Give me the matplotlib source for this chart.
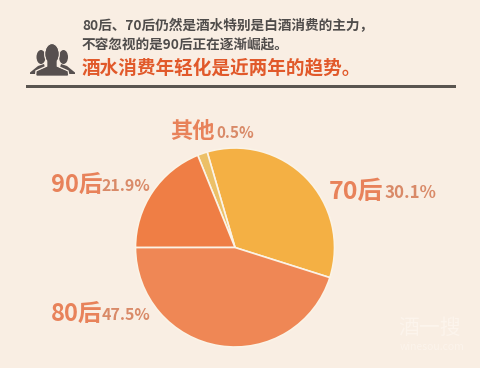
import matplotlib
matplotlib.use("Agg")
import matplotlib.pyplot as plt
from matplotlib.patches import Ellipse, Polygon, Rectangle

plt.rcParams['font.family'] = ['Noto Sans CJK SC', 'DejaVu Sans']

# Order: counter-clockwise from the start angle
categories = ['70后', '其他', '90后', '80后']
printed_labels = ['30.1%', '0.5%', '21.9%', '47.5%']
# Slice sizes as drawn in the picture (they differ from the printed labels)
drawn_shares = [34.4, 1.6, 18.9, 45.1]
slice_colors = ['#f4b044', '#ecc067', '#ef7e45', '#ef8755']

headline_lines = ['80后、70后仍然是酒水特别是白酒消费的主力，', '不容忽视的是90后正在逐渐崛起。']
headline_accent = '酒水消费年轻化是近两年的趋势。'

W, H = 480, 368
BG = '#f9eee3'
fig = plt.figure(figsize=(W / 100, H / 100), dpi=100, facecolor=BG)

# Overlay in pixel coordinates
ov = fig.add_axes([0, 0, 1, 1])
ov.set_xlim(0, W)
ov.set_ylim(H, 0)
ov.axis('off')

# Pie
cx, cy, r = 235, 247.5, 99.5
ax = fig.add_axes([(cx - r) / W, 1 - (cy + r) / H, 2 * r / W, 2 * r / H])
ax.pie(drawn_shares, colors=slice_colors, startangle=-17.6, counterclock=True, radius=1.0,
       wedgeprops=dict(edgecolor='#fbf3e6', linewidth=1.2))
ax.set_xlim(-1, 1)
ax.set_ylim(-1, 1)
ax.set_aspect('equal')
ax.patch.set_alpha(0)

# Header text
dark = '#4f4c4b'
ov.text(82, 26, headline_lines[0], fontsize=9.85, fontweight='bold', color=dark, va='center', ha='left')
ov.text(82, 44, headline_lines[1], fontsize=9.85, fontweight='bold', color=dark, va='center', ha='left')
ov.text(82, 67.5, headline_accent, fontsize=13.4, fontweight='bold', color='#e1592a', va='center', ha='left')

# Rule
ov.add_patch(Rectangle((26, 84.5), 430, 3.5, color='#5a5550', lw=0))

# People icon
icon = '#57504f'
for hx, body in [
    (41, [(30, 72.5), (38, 66), (44, 64), (47, 74), (30, 74)]),
    (63.5, [(75, 72.5), (67, 66), (61, 64), (58, 74), (75, 74)]),
]:
    ov.add_patch(Ellipse((hx, 57), 9, 14, color=icon, lw=0))
    ov.add_patch(Polygon(body, color=icon, lw=0))
ov.add_patch(Ellipse((52, 54), 14.5, 21, facecolor=icon, edgecolor=BG, lw=1))
ov.add_patch(Polygon([(35.5, 76), (36, 71), (47, 66), (47, 60), (57, 60), (57, 66), (68, 71), (69, 76)],
                     facecolor=icon, edgecolor=BG, lw=1))
ov.add_patch(Ellipse((52, 54), 13, 19, color=icon, lw=0))
ov.add_patch(Polygon([(37, 75.5), (37, 71.5), (47.5, 67), (47.5, 60), (56.5, 60), (56.5, 67), (67.5, 71.5), (67.5, 75.5)],
                     color=icon, lw=0))

# Slice labels: large category name, then smaller percentage
cat_color = '#e8825a'
pct_color = '#d98a68'
cat_pos = {'70后': (329, 192), '其他': (170, 132), '90后': (50.5, 185), '80后': (50.5, 314)}
cat_size = {'70后': 18, '其他': 16, '90后': 17, '80后': 17}
pct_pos = {'70后': (384.5, 193.5), '其他': (216, 133.5), '90后': (102, 186), '80后': (102, 315)}
pct_size = {'70后': 12.2, '其他': 11, '90后': 11.5, '80后': 11.5}
for name, pct in zip(categories, printed_labels):
    x, y = cat_pos[name]
    ov.text(x, y, name, fontsize=cat_size[name], fontweight='bold', color=cat_color, va='center', ha='left')
    x, y = pct_pos[name]
    ov.text(x, y, pct, fontsize=pct_size[name], fontweight='bold', color=pct_color, va='center', ha='left')

# Faint watermark
ov.text(430, 328, '酒一搜', fontsize=15, color='#fcf4ec', va='center', ha='center')
ov.text(432, 347, 'winesou.com', fontsize=7.5, color='#fcf4ec', va='center', ha='center')

fig.savefig('out.png', dpi=100, facecolor=BG)
